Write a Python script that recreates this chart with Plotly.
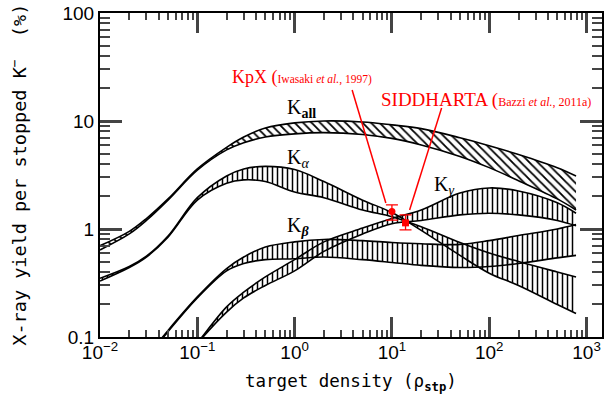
import plotly.graph_objects as go

# density grid (rho_stp)
dens = [0.01, 0.02, 0.03, 0.05, 0.1, 0.2, 0.3, 0.5, 1, 2, 5, 10, 20, 50, 100, 200, 500, 780]

kall_a = [0.70, 0.95, 1.25, 1.9, 3.6, 5.7, 7.1, 8.6, 9.6, 10.0, 9.8, 9.2, 8.5, 7.0, 5.9, 4.9, 3.7, 3.1]
kall_b = [0.64, 0.90, 1.20, 1.85, 3.5, 5.4, 6.3, 7.1, 7.6, 7.8, 7.5, 6.9, 6.0, 4.7, 3.7, 2.8, 1.9, 1.5]

kalpha_a = [0.35, 0.45, 0.56, 0.86, 1.95, 3.1, 3.6, 3.8, 3.55, 2.75, 1.85, 1.42, 0.97, 0.57, 0.39, 0.30, 0.20, 0.165]
kalpha_b = [0.33, 0.44, 0.55, 0.84, 1.85, 2.65, 2.85, 2.75, 2.2, 1.95, 1.5, 1.3, 1.05, 0.75, 0.60, 0.50, 0.40, 0.36]

kbeta_a = [0.02, 0.043, 0.065, 0.115, 0.235, 0.43, 0.55, 0.68, 0.76, 0.80, 0.78, 0.75, 0.73, 0.72, 0.78, 0.87, 1.0, 1.1]
kbeta_b = [0.02, 0.042, 0.063, 0.112, 0.23, 0.41, 0.48, 0.52, 0.53, 0.55, 0.52, 0.49, 0.46, 0.44, 0.45, 0.48, 0.54, 0.57]

kgamma_a = [0.005, 0.012, 0.02, 0.04, 0.088, 0.19, 0.26, 0.36, 0.52, 0.76, 1.02, 1.25, 1.5, 2.15, 2.4, 2.25, 1.75, 1.4]
kgamma_b = [0.005, 0.012, 0.02, 0.04, 0.087, 0.17, 0.23, 0.30, 0.41, 0.62, 0.90, 1.12, 1.2, 1.35, 1.4, 1.35, 1.2, 1.07]

# measurements
kpx_x, kpx_y, kpx_up, kpx_dn = [10.0], [1.45], [0.22], [0.24]
sid_x, sid_y, sid_up, sid_dn = [13.8], [1.14], [0.21], [0.16]

# leader lines (data units)
kpx_lead_x, kpx_lead_y = [3.9, 8.66], [19.4, 1.74]
sid_lead_x, sid_lead_y = [32.4, 15.2], [13.2, 1.5]

# ticks
x_major = [0.01, 0.1, 1, 10, 100, 1000]
x_major_text = ["10<sup>−2</sup>", "10<sup>−1</sup>", "10<sup>0</sup>", "10<sup>1</sup>", "10<sup>2</sup>", "10<sup>3</sup>"]
y_major = [0.1, 1, 10, 100]
y_major_text = ["0.1", "1", "10", "100"]
digits = [2, 3, 4, 5, 6, 7, 8, 9]
x_minor = [d * 10.0 ** e for e in range(-2, 4) for d in digits]
y_minor = [d * 10.0 ** e for e in range(-1, 2) for d in digits]

XR = [-2, 3.159]
YR = [-1, 2]

fig = go.Figure()

def band(a, b, shape, size):
    fig.add_trace(go.Scatter(x=dens, y=a, mode="lines", line=dict(color="black", width=1.6, shape="spline"),
                             showlegend=False, hoverinfo="skip"))
    fig.add_trace(go.Scatter(x=dens, y=b, mode="lines", line=dict(color="black", width=1.6, shape="spline"),
                             fill="tonexty", fillcolor="rgba(0,0,0,0)",
                             fillpattern=dict(shape=shape, size=size, solidity=0.3, fgcolor="black",
                                              bgcolor="rgba(0,0,0,0)", fillmode="replace"),
                             showlegend=False, hoverinfo="skip"))

band(kall_a, kall_b, "\\", 6)
band(kalpha_a, kalpha_b, "|", 5)
band(kbeta_a, kbeta_b, "|", 5)
band(kgamma_a, kgamma_b, "|", 5)

for lx, ly in [(kpx_lead_x, kpx_lead_y), (sid_lead_x, sid_lead_y)]:
    fig.add_trace(go.Scatter(x=lx, y=ly, mode="lines", line=dict(color="red", width=1.5),
                             showlegend=False, hoverinfo="skip"))

fig.add_trace(go.Scatter(x=kpx_x, y=kpx_y, mode="markers",
                         marker=dict(color="red", size=7, symbol="circle"),
                         error_y=dict(type="data", array=kpx_up, arrayminus=kpx_dn, color="red",
                                      thickness=1.3, width=6),
                         showlegend=False))
fig.add_trace(go.Scatter(x=sid_x, y=sid_y, mode="markers",
                         marker=dict(color="red", size=7, symbol="square"),
                         error_y=dict(type="data", array=sid_up, arrayminus=sid_dn, color="red",
                                      thickness=1.3, width=6),
                         showlegend=False))

for i in (2, 3, 4):
    fig.add_trace(go.Scatter(x=[1], y=[1], xaxis=f"x{i}", yaxis=f"y{i}", mode="markers",
                             marker=dict(opacity=0), showlegend=False, hoverinfo="skip"))

tickfont = dict(family="Liberation Sans", size=19, color="black")
TC = "#444444"
base = dict(type="log", showgrid=False, zeroline=False, ticks="inside", tickmode="array")
MAJW, MINW = 2.5, 2

fig.update_layout(
    xaxis=dict(range=XR, tickvals=x_major, ticktext=x_major_text, ticklen=20, tickwidth=MAJW, tickcolor=TC,
               tickfont=tickfont, ticklabelstandoff=-3, showline=True, linecolor="black", linewidth=2,
               mirror=True, **base),
    xaxis2=dict(range=XR, overlaying="x", side="bottom", anchor="y2", tickvals=x_minor, ticklen=7, tickwidth=MINW,
                tickcolor=TC, showticklabels=False, showline=False, **base),
    xaxis3=dict(range=XR, overlaying="x", side="top", anchor="y3", tickvals=x_major, ticklen=20, tickwidth=MAJW,
                tickcolor=TC, showticklabels=False, showline=False, **base),
    xaxis4=dict(range=XR, overlaying="x", side="top", anchor="y4", tickvals=x_minor, ticklen=7, tickwidth=MINW,
                tickcolor=TC, showticklabels=False, showline=False, **base),
    yaxis=dict(range=YR, tickvals=y_major, ticktext=y_major_text, ticklen=22, tickwidth=MAJW, tickcolor=TC,
               tickfont=tickfont, showline=True, linecolor="black", linewidth=2, mirror=True, **base),
    yaxis2=dict(range=YR, overlaying="y", side="left", anchor="x2", tickvals=y_minor, ticklen=10, tickwidth=MINW,
                tickcolor=TC, showticklabels=False, showline=False, **base),
    yaxis3=dict(range=YR, overlaying="y", side="right", anchor="x3", tickvals=y_major, ticklen=22, tickwidth=MAJW,
                tickcolor=TC, showticklabels=False, showline=False, **base),
    yaxis4=dict(range=YR, overlaying="y", side="right", anchor="x4", tickvals=y_minor, ticklen=10, tickwidth=MINW,
                tickcolor=TC, showticklabels=False, showline=False, **base),
)

serif = "Liberation Serif"
ann = [
    dict(x=-0.162, y=0.5, xref="paper", yref="paper", text="X-ray yield per stopped K<sup>−</sup>  (%)",
         textangle=-90, showarrow=False, font=dict(family="DejaVu Sans Mono", size=18.5, color="black"),
         xanchor="center", yanchor="middle"),
    dict(x=0.5, y=-0.14, xref="paper", yref="paper", text="target density (ρ<sub><b>stp</b></sub>)",
         showarrow=False, font=dict(family="DejaVu Sans Mono", size=17.5, color="black"),
         xanchor="center", yanchor="middle"),
    dict(x=0.258, y=0.802, xref="paper", yref="paper",
         text="KpX (<span style='font-size:11.5px'>Iwasaki <i>et al.</i>, 1997)</span>",
         showarrow=False, font=dict(family=serif, size=18, color="red"), xanchor="left", yanchor="middle"),
    dict(x=0.556, y=0.731, xref="paper", yref="paper",
         text="SIDDHARTA (<span style='font-size:12px'>Bazzi <i>et al.</i>, 2011a)</span>",
         showarrow=False, font=dict(family=serif, size=19, color="red"), xanchor="left", yanchor="middle"),
    dict(x=0.369, y=0.705, xref="paper", yref="paper", text="K<sub><b>all</b></sub>",
         showarrow=False, font=dict(family=serif, size=20, color="black"), xanchor="left", yanchor="middle"),
    dict(x=0.369, y=0.55, xref="paper", yref="paper", text="K<sub><i>α</i></sub>",
         showarrow=False, font=dict(family=serif, size=20, color="black"), xanchor="left", yanchor="middle"),
    dict(x=0.369, y=0.34, xref="paper", yref="paper", text="K<sub><b><i>β</i></b></sub>",
         showarrow=False, font=dict(family=serif, size=20, color="black"), xanchor="left", yanchor="middle"),
    dict(x=0.661, y=0.469, xref="paper", yref="paper", text="K<sub><i>γ</i></sub>",
         showarrow=False, font=dict(family=serif, size=20, color="black"), xanchor="left", yanchor="middle"),
]

fig.update_layout(width=605, height=400, margin=dict(l=100, r=1, t=13, b=63),
                  plot_bgcolor="white", paper_bgcolor="white", annotations=ann, showlegend=False)

fig.write_html("out.html", config={"displayModeBar": False},
               post_script="document.body.style.margin='0';document.body.style.overflow='hidden';")
